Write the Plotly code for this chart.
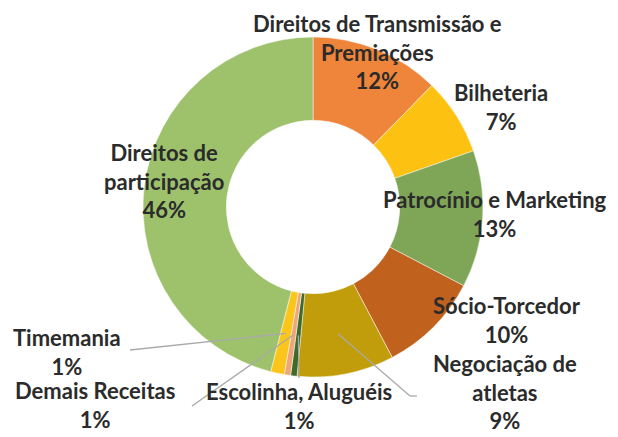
import math
import plotly.graph_objects as go

# ---- data ----
labels = ["Direitos de Transmissão e Premiações", "Bilheteria", "Patrocínio e Marketing",
          "Sócio-Torcedor", "Negociação de atletas", "Escolinha, Aluguéis",
          "Demais Receitas", "Timemania", "Direitos de participação"]
label_lines = ["Direitos de Transmissão e<br>Premiações", "Bilheteria", "Patrocínio e Marketing",
               "Sócio-Torcedor", "Negociação de<br>atletas", "Escolinha, Aluguéis",
               "Demais Receitas", "Timemania", "Direitos de<br>participação"]
values = [12.3, 7.3, 13.0, 9.6, 9.2, 0.6, 0.6, 1.3, 45.9]
colors = ["#ef853a", "#fdc211", "#7fa657", "#c0621d", "#c19d0b", "#3d6b2a",
          "#efa67b", "#fcc51c", "#9ec26c"]

W, H = 618, 437
CX, CY, R = 313, 207, 170   # donut centre / outer radius in px
HOLE = 0.51

# label placement (px, centre of text block) -- layout only
label_pos = [(378, 52), (501, 107), (495, 214), (507, 320), (505, 392),
             (299, 406), (95, 405), (67, 352), (164, 181)]
# leader lines: label-side end points (px); None = no leader
leader_end = [None, None, None, None, [(417, 396), (410, 396)], [(299, 378)],
              [(192, 406)], [(130, 350)], None]

def px(x, y):
    return x / W, 1 - y / H

fig = go.Figure(go.Pie(
    labels=labels, values=values, sort=False, direction="clockwise", rotation=0,
    hole=HOLE, marker=dict(colors=colors, line=dict(color="rgba(255,255,255,0.6)", width=0.8)),
    textinfo="none", hoverinfo="label+percent", showlegend=False,
    domain=dict(x=[(CX - R) / W, (CX + R) / W], y=[1 - (CY + R) / H, 1 - (CY - R) / H]),
))

total = sum(values)
annotations, shapes = [], []
cum = 0.0
for i, v in enumerate(values):
    mid = (cum + v / 2) / total * 2 * math.pi
    cum += v
    pct = round(v / total * 100)
    lx, ly = label_pos[i]
    ax_, ay_ = px(lx, ly)
    annotations.append(dict(
        x=ax_, y=ay_, xref="paper", yref="paper", showarrow=False,
        text=f"<b>{label_lines[i]}<br>{pct}%</b>", align="center",
        font=dict(family="Lato", size=22, color="#2b2b2b"),
        xanchor="center", yanchor="middle"))
    if leader_end[i]:
        r = R * 0.76
        sx, sy = CX + r * math.sin(mid), CY - r * math.cos(mid)
        pts = leader_end[i] + [(sx, sy)]
        for (x0, y0), (x1, y1) in zip(pts[:-1], pts[1:]):
            a0, b0 = px(x0, y0)
            a1, b1 = px(x1, y1)
            shapes.append(dict(type="line", xref="paper", yref="paper",
                               x0=a0, y0=b0, x1=a1, y1=b1,
                               line=dict(color="#a9a9a9", width=1.3)))

fig.update_layout(
    width=W, height=H, margin=dict(l=0, r=0, t=0, b=0),
    paper_bgcolor="white", plot_bgcolor="white",
    annotations=annotations, shapes=shapes,
)
fig.write_html("out.html", config={"displayModeBar": False},
               post_script="document.body.style.margin='0';")
